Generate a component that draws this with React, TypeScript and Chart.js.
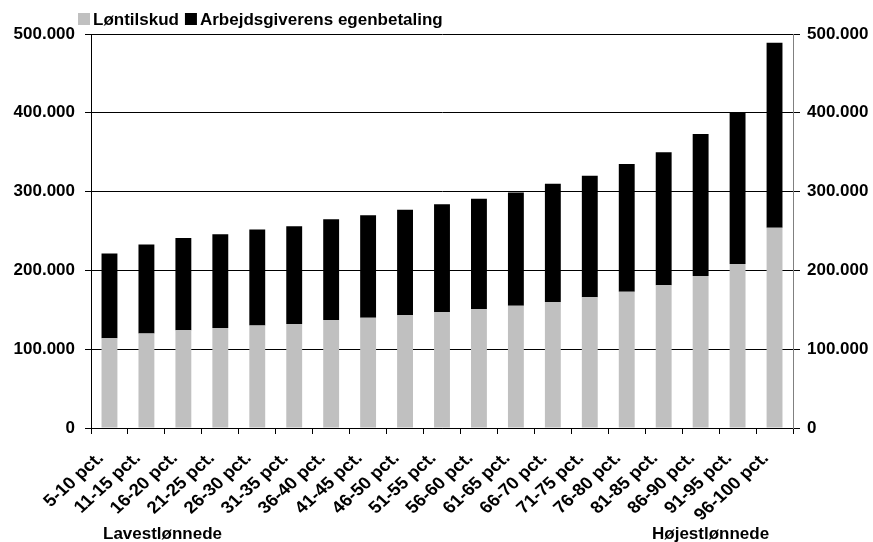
import React, { useEffect, useRef } from "react";
import { Chart, registerables } from "chart.js";

Chart.register(...registerables);

const categories = [
  "5-10 pct.", "11-15 pct.", "16-20 pct.", "21-25 pct.", "26-30 pct.",
  "31-35 pct.", "36-40 pct.", "41-45 pct.", "46-50 pct.", "51-55 pct.",
  "56-60 pct.", "61-65 pct.", "66-70 pct.", "71-75 pct.", "76-80 pct.",
  "81-85 pct.", "86-90 pct.", "91-95 pct.", "96-100 pct.",
];

const loentilskud = [
  114000, 120000, 124000, 127000, 130000, 132000, 137000, 140000, 143000, 147000,
  151000, 155000, 160000, 166000, 173000, 181000, 193000, 208000, 254000,
];

const egenbetaling = [
  107500, 113000, 117000, 119000, 122000, 124000, 128000, 130000, 134000, 137000,
  140000, 144000, 150000, 154000, 162000, 169000, 180000, 193000, 235000,
];

const seriesNames = ["Løntilskud", "Arbejdsgiverens egenbetaling"];
const seriesColors = ["#C0C0C0", "#000000"];
const bottomNotes = ["Lavestlønnede", "Højestlønnede"];

const FONT = "'Liberation Sans', Arial, sans-serif";

const fmt = (v: number) => String(v).replace(/\B(?=(\d{3})+(?!\d))/g, ".");

const overlayPlugin = {
  id: "overlay",
  afterDraw(chart: any) {
    const ctx = chart.ctx;
    ctx.save();
    ctx.font = `bold 17px ${FONT}`;
    ctx.textBaseline = "alphabetic";
    ctx.textAlign = "left";
    // legend
    let x = 78;
    chart.data.datasets.forEach((ds: any) => {
      ctx.fillStyle = ds.backgroundColor;
      ctx.fillRect(x, 13, 12, 12);
      ctx.fillStyle = "#000";
      ctx.fillText(ds.label, x + 15, 25);
      x += 15 + ctx.measureText(ds.label).width + 6;
    });
    // bottom notes
    ctx.fillStyle = "#000";
    ctx.fillText(bottomNotes[0], 103, 539);
    ctx.fillText(bottomNotes[1], 652, 539);
    ctx.restore();

    // rotated category labels, positioned from the x scale
    const xs = chart.scales.x;
    const labels: string[] = chart.data.labels;
    ctx.save();
    ctx.font = `bold 17px ${FONT}`;
    ctx.fillStyle = "#000";
    ctx.textAlign = "right";
    ctx.textBaseline = "alphabetic";
    labels.forEach((lab, i) => {
      const px = xs.getPixelForTick(i);
      ctx.save();
      ctx.translate(px - 5, 459);
      ctx.scale(1.1, 1);
      ctx.rotate(-Math.PI / 4);
      ctx.fillText(lab, 0, 0);
      ctx.restore();
    });
    ctx.restore();
  },
};

export default function App() {
  const ref = useRef<HTMLCanvasElement | null>(null);

  useEffect(() => {
    if (!ref.current) return;
    const tickFont = { family: FONT, size: 17, weight: "bold" as const };
    const chart = new Chart(ref.current, {
      type: "bar",
      data: {
        labels: categories,
        datasets: [
          {
            label: seriesNames[0],
            data: loentilskud,
            backgroundColor: seriesColors[0],
            borderWidth: 0,
            barPercentage: 0.43,
            categoryPercentage: 1,
          },
          {
            label: seriesNames[1],
            data: egenbetaling,
            backgroundColor: seriesColors[1],
            borderWidth: 0,
            barPercentage: 0.43,
            categoryPercentage: 1,
          },
        ],
      },
      options: {
        animation: false,
        responsive: false,
        devicePixelRatio: 1,
        layout: { padding: { top: 34, left: 0, right: 0, bottom: 0 } },
        plugins: {
          legend: { display: false },
          tooltip: { enabled: false },
        },
        scales: {
          x: {
            stacked: true,
            offset: true,
            grid: {
              offset: true,
              drawOnChartArea: false,
              drawTicks: true,
              tickLength: 6,
              color: "#000",
            },
            border: { color: "#000" },
            ticks: {
              display: false,
              autoSkip: false,
            },
            afterFit: (s: any) => {
              s.height = 114;
            },
          },
          y: {
            stacked: true,
            position: "left",
            min: 0,
            max: 500000,
            grid: {
              color: "#000",
              drawTicks: true,
              tickLength: 6,
            },
            border: { color: "#000" },
            ticks: {
              stepSize: 100000,
              font: tickFont,
              color: "#000",
              padding: 10,
              callback: (v: any) => fmt(Number(v)),
            },
            afterFit: (s: any) => {
              s.width = 91;
            },
          },
          y2: {
            position: "right",
            min: 0,
            max: 500000,
            grid: {
              drawOnChartArea: false,
              drawTicks: true,
              tickLength: 7,
              color: "#000",
            },
            border: { color: "#808080" },
            ticks: {
              stepSize: 100000,
              font: tickFont,
              color: "#000",
              padding: 7,
              callback: (v: any) => fmt(Number(v)),
            },
            afterFit: (s: any) => {
              s.width = 80;
            },
          },
        },
      },
      plugins: [overlayPlugin],
    });
    return () => chart.destroy();
  }, []);

  return (
    <div style={{ position: "absolute", left: 0, top: 0, width: 873, height: 542, background: "#fff" }}>
      <canvas ref={ref} width={873} height={542} />
    </div>
  );
}
